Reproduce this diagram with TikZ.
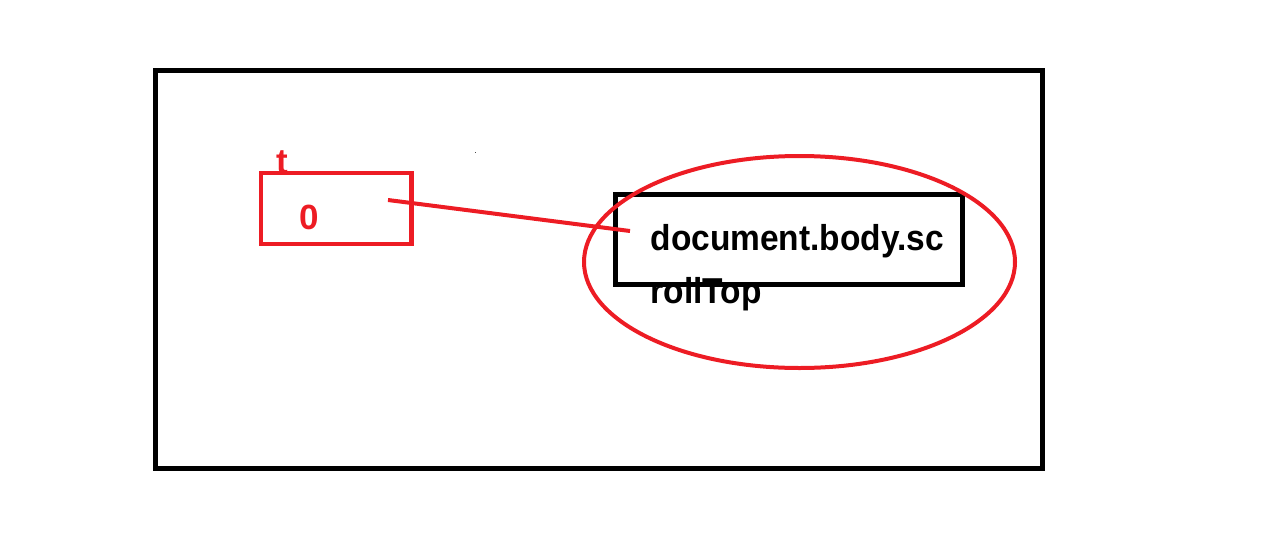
\documentclass[tikz,border=0pt]{standalone}
\usepackage{fontspec}
\setmainfont{Liberation Sans}
\newfontfamily\labfont[FakeStretch=0.93]{Liberation Sans}
\definecolor{paintred}{RGB}{237,28,36}
\begin{document}
\begin{tikzpicture}[x=1pt,y=-1pt,
  blackbox/.style={draw=black,line width=5pt},
  redbox/.style={draw=paintred,line width=4.5pt},
  redline/.style={draw=paintred,line width=4pt},
  redtext/.style={text=paintred,font=\fontsize{35}{40}\selectfont\bfseries,inner sep=0pt,anchor=base west},
  blacktext/.style={text=black,font=\labfont\fontsize{36}{53}\selectfont\bfseries,inner sep=0pt,anchor=base west}]
\useasboundingbox (0,0) rectangle (1274,536);
% outer frame
\draw[blackbox] (155.5,70) rectangle (1042.5,468);
% red variable box
\draw[redbox] (261,173) rectangle (411.5,244);
\node[redtext] (tlabel) at (276,173) {t};
\node[redtext] (zero) at (299.5,229.5) {0};
% black value box
\draw[blackbox] (615,194) rectangle (962,284.5);
\node[blacktext] (docA) at (650.4,250) {document.body.sc};
\node[blacktext] (docB) at (650.5,303.5) {rollTop};
% ellipse
\draw[paintred,line width=4pt] (799.5,262) ellipse [x radius=215.5, y radius=106];
% connector
\coordinate (lineA) at (388,200);
\coordinate (lineB) at (630,231);
\draw[redline] (lineA) -- (lineB);
% stray dot
\fill[black!70] (474.5,151.5) rectangle (476,153);
\end{tikzpicture}
\end{document}
